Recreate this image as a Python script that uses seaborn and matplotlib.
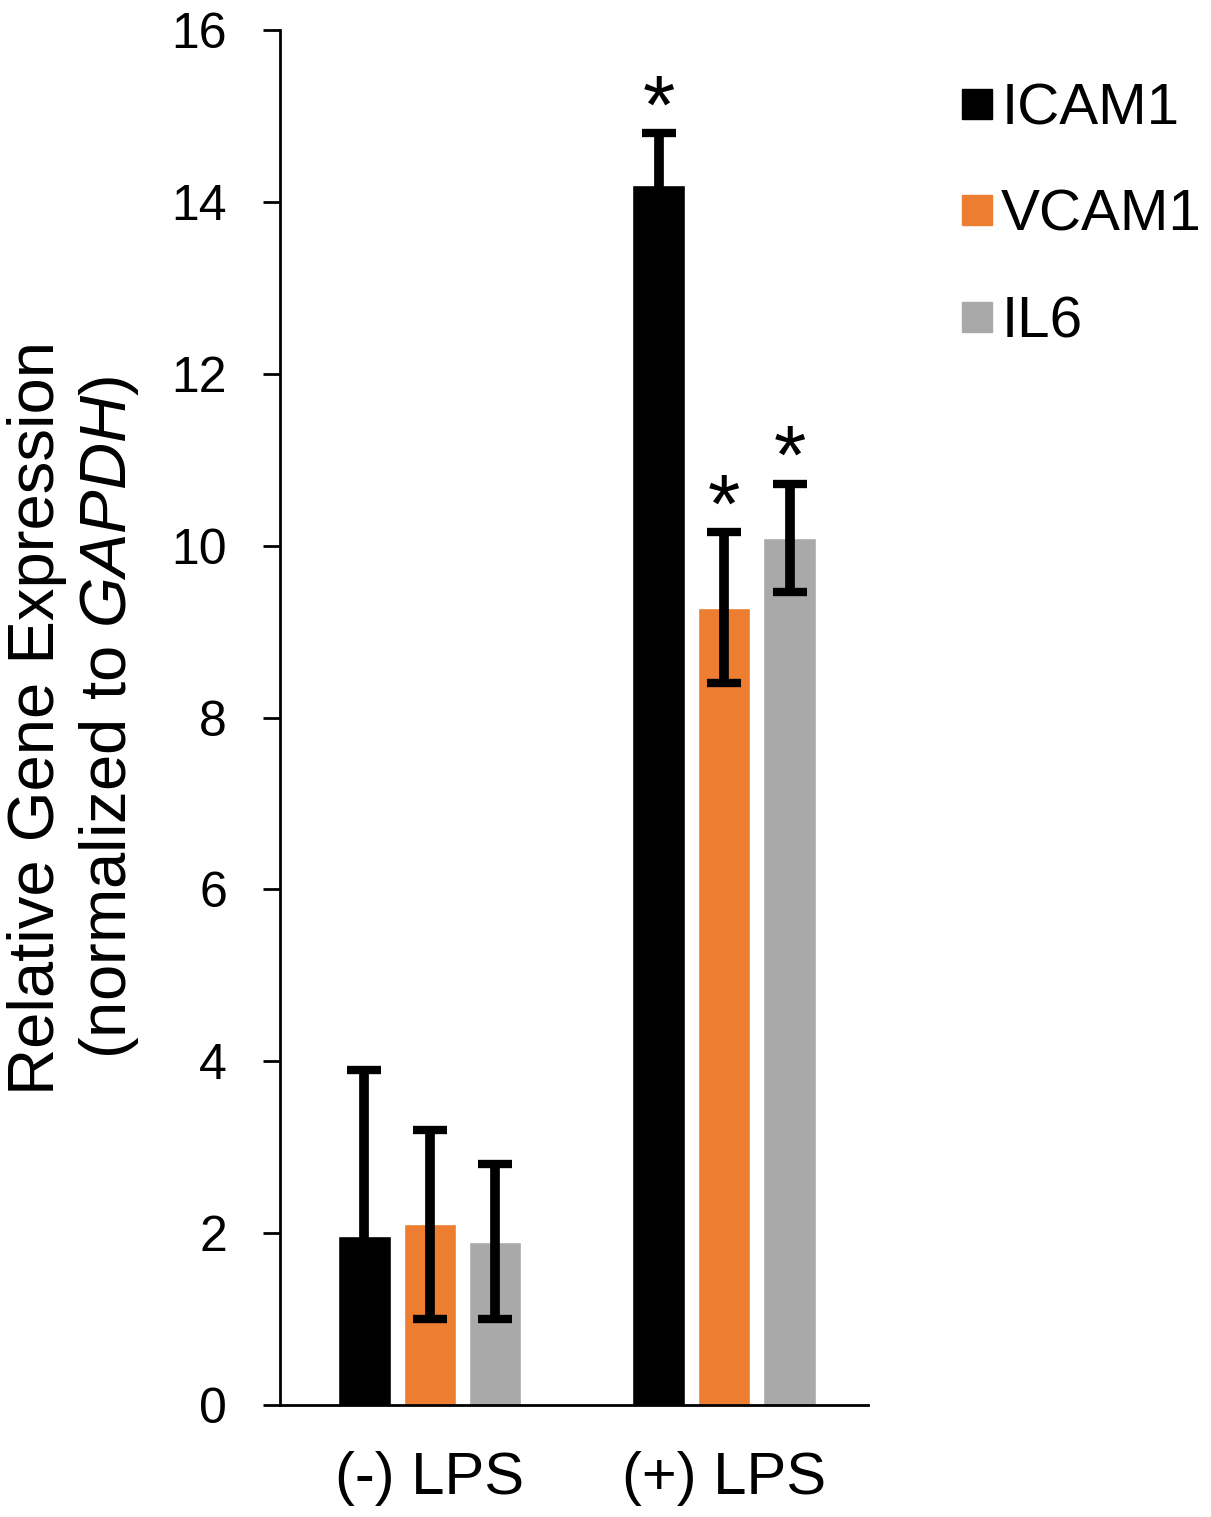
import numpy as np
import pandas as pd
import seaborn as sns
import matplotlib.pyplot as plt
from matplotlib.lines import Line2D

groups = ["(-) LPS", "(+) LPS"]
genes = ["ICAM1", "VCAM1", "IL6"]
icam1 = [1.97, 14.2]
vcam1 = [2.1, 9.28]
il6 = [1.9, 10.09]
icam1_err = [1.93, 0.6]
vcam1_err = [1.1, 0.88]
il6_err = [0.9, 0.63]
signif = [False, True]
colors = ["#000000", "#ED7D31", "#A9A9A9"]

df = pd.DataFrame({
    "group": groups * 3,
    "gene": np.repeat(genes, 2),
    "value": icam1 + vcam1 + il6,
})
errs = [icam1_err, vcam1_err, il6_err]

sns.set_style("white")
plt.rcParams['font.family'] = ['Liberation Sans', 'DejaVu Sans']
plt.rcParams['mathtext.fontset'] = 'custom'
plt.rcParams['mathtext.it'] = 'Liberation Sans:italic'
plt.rcParams['mathtext.rm'] = 'Liberation Sans'
plt.rcParams['text.color'] = 'black'
plt.rcParams['axes.labelcolor'] = 'black'
plt.rcParams['xtick.color'] = 'black'
plt.rcParams['ytick.color'] = 'black'

fig = plt.figure(figsize=(12.11, 15.17), dpi=100)
ax = fig.add_axes([0.231, 0.074, 0.486, 0.906])

sns.barplot(data=df, x="group", y="value", hue="gene", order=groups, hue_order=genes,
            palette=colors, errorbar=None, width=0.667, gap=0.2, saturation=1,
            legend=False, ax=ax)

for cont, err in zip(ax.containers, errs):
    for i, bar in enumerate(cont):
        xc = bar.get_x() + bar.get_width() / 2
        h = bar.get_height()
        ax.errorbar(xc, h, yerr=err[i], fmt='none', ecolor='black',
                    elinewidth=7, capsize=12, capthick=6, zorder=3)
        if signif[i]:
            ax.text(xc, h + err[i] - 0.2, "*", ha='center', va='bottom',
                    fontsize=60, color='black')

ax.set_ylim(0, 16)
ax.set_xlim(-0.51, 1.49)
ax.set_yticks(range(0, 17, 2))
ax.tick_params(axis='y', which='major', direction='out', length=12, width=2,
               labelsize=36, pad=26, left=True, colors='black')
ax.tick_params(axis='x', length=0, labelsize=43, pad=33, colors='black')
ax.set_xlabel("")
ax.set_ylabel("Relative Gene Expression\n(normalized to $\\it{GAPDH}$)",
              fontsize=47, labelpad=22, color='black')
for s in ["top", "right"]:
    ax.spines[s].set_visible(False)
for s in ["left", "bottom"]:
    ax.spines[s].set_linewidth(2)
    ax.spines[s].set_color('black')

handles = [Line2D([], [], marker='s', linestyle='none', markersize=22,
                  markerfacecolor=c, markeredgecolor=c) for c in colors]
fig.legend(handles, genes, loc='upper left', bbox_to_anchor=(0.768, 0.965),
           frameon=False, fontsize=42, handlelength=0.6, handletextpad=0.12,
           labelspacing=0.9, borderpad=0)

fig.savefig("out.png", dpi=100)
